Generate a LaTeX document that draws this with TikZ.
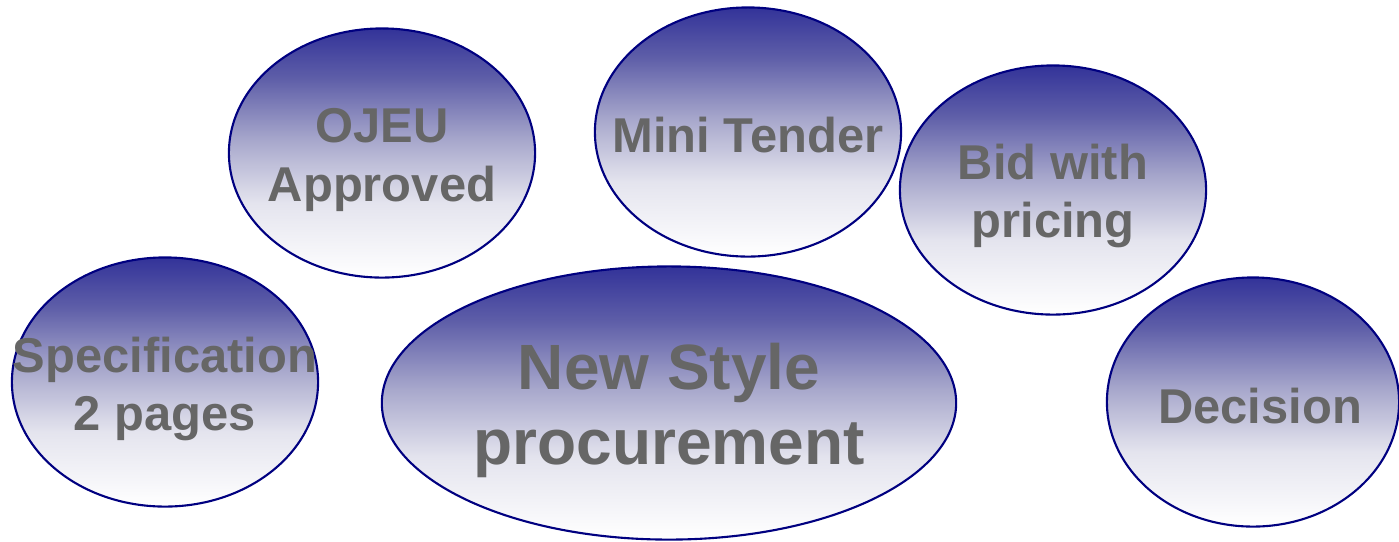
\documentclass[tikz,border=0pt]{standalone}
\usepackage{fontspec}
\setmainfont{Liberation Sans}
\usetikzlibrary{shapes.geometric}
\definecolor{rimblue}{HTML}{000080}
\definecolor{txtgray}{HTML}{666666}
\definecolor{gA}{HTML}{333399}
\definecolor{gB}{HTML}{5E5EA8}
\definecolor{gC}{HTML}{A8A8CC}
\definecolor{gD}{HTML}{E4E4EE}
\pgfdeclareverticalshading{bubshade}{100bp}{color(0bp)=(white); color(25bp)=(white); color(40bp)=(gD); color(52.5bp)=(gC); color(65bp)=(gB); color(75bp)=(gA); color(100bp)=(gA)}
\tikzset{
  bubble/.style={ellipse, draw=rimblue, line width=0.6pt, shading=bubshade, inner sep=0pt,
    minimum width=3.06cm, minimum height=2.49cm},
  bigbubble/.style={bubble, minimum width=5.74cm, minimum height=2.73cm},
  bubtext/.style={text=txtgray, align=center, inner sep=0pt,
    font=\fontsize{13.9pt}{16.6pt}\selectfont\bfseries},
  bigtext/.style={bubtext, font=\fontsize{18.2pt}{21.3pt}\selectfont\bfseries}
}
\begin{document}
\begin{tikzpicture}[x=0.01cm,y=-0.01cm]
\useasboundingbox (0,0) rectangle (1399,541);
\node[bubble] (ojeu) at (382,153) {};
\node[bubtext] (ojeuT) at ([yshift=-0.07cm]ojeu.center) {OJEU\\Approved};
\node[bubble] (mini) at (748,132) {};
\node[bubtext] (miniT) at ([yshift=-0.03cm]mini.center) {Mini Tender};
\node[bubble] (bid) at (1053,190) {};
\node[bubtext] (bidT) at ([yshift=-0.06cm]bid.center) {Bid with\\pricing};
\node[bubble] (spec) at (165,382) {};
\node[bubtext] (specT) at ([yshift=-0.07cm]spec.center) {Specification\\2 pages};
\node[bigbubble] (newstyle) at (669,403) {};
\node[bigtext] (newstyleT) at ([yshift=-0.07cm]newstyle.center) {New Style\\procurement};
\node[bubble, minimum width=2.92cm] (decision) at (1253,402) {};
\node[bubtext] (decisionT) at ([xshift=0.07cm,yshift=-0.04cm]decision.center) {Decision};
\end{tikzpicture}
\end{document}
